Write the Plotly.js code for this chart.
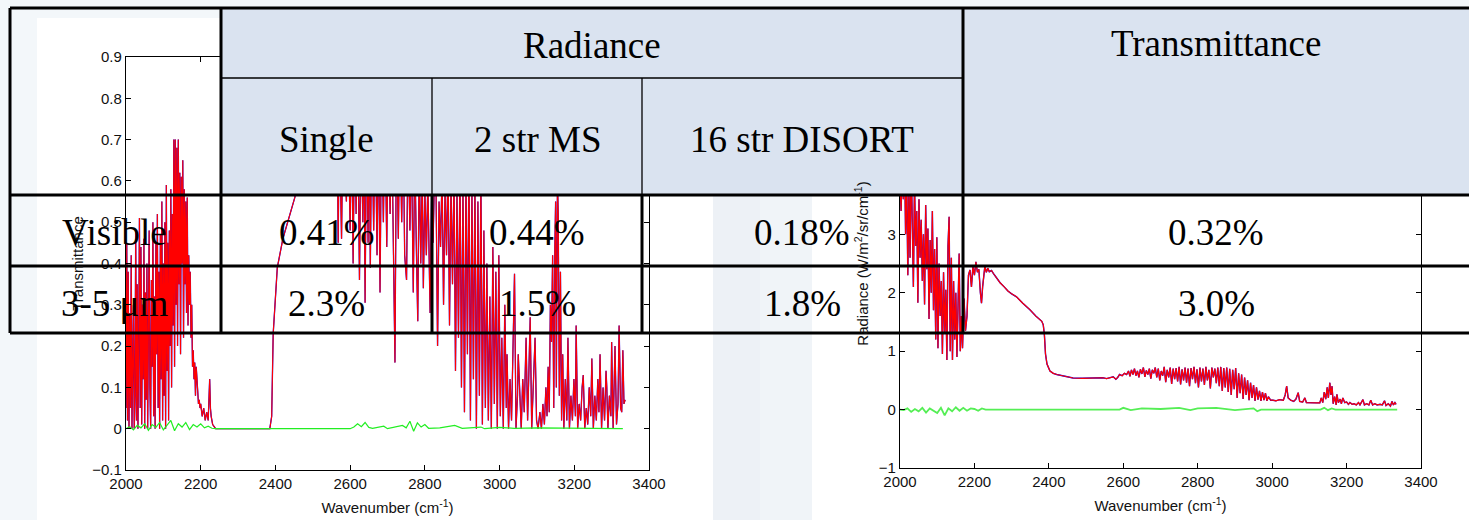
<!DOCTYPE html>
<html>
<head>
<meta charset="utf-8">
<script src="https://cdn.plot.ly/plotly-3.0.1.min.js"></script>
<style>
html,body{margin:0;padding:0;background:#f2f6f9;}
#chart{width:1469px;height:520px;}
</style>
</head>
<body>
<div id="chart"></div>
<script>
// ---------- Transmittance (left panel) ----------
const wnT = [2000,2002,2004,2006,2008,2010,2012,2014,2016,2018,2020,2022,2024,2026,2028,2030,2032,2034,2036,2038,2040,2042,2044,2046,2048,2050,2052,2054,2056,2058,2060,2062,2064,2066,2068,2070,2072,2074,2076,2078,2080,2082,2084,2086,2088,2090,2092,2094,2096,2098,2100,2102,2104,2106,2108,2110,2112,2114,2116,2118,2120,2122,2124,2126,2128,2130,2132,2134,2136,2138,2140,2142,2144,2146,2148,2150,2152,2154,2156,2158,2160,2162,2164,2166,2168,2170,2172,2174,2176,2178,2180,2182,2184,2186,2188,2190,2192,2194,2196,2198,2200,2204,2208,2212,2216,2220,2224,2226,2228,2232,2236,2240,
2385,2390,2394,2400,2405,2420,2439,2452,2465,2490,2520,2550,2565,
2568,2571,2577,2581,2590,2594,2600,2604,2608,2612,2616,2620,2625,2629,2634,2637,2640,2644,2648,2651,2654,2658,2663,2667,2672,2676,2680,2684,2689,2693,2698,2702,2707,2711,2716,2720,2724,2729,2733,2738,2742,2746,2751,2755,2760,2764,2769,2773,2777,2781,2785,2789,2793,2796,2800,2804,2808,2812,2814,2818,2822,2826,
2830,2834,2838,2842,2846,2850,2854,2858,2862,2866,2870,2874,2878,2882,2886,2890,2894,2898,2902,2906,2910,2914,2918,2922,2926,2930,2934,2938,2942,2946,2950,2954,2958,
2962,2966,2970,2974,2978,2982,2986,2990,2994,2998,3002,3006,3010,3014,3018,3020,3024,3028,3032,3036,3040,3044,3048,3050,3054,3058,3062,3066,3071,3075,3078,3082,3086,3090,3095,3099,3103,3108,3112,3116,3120,3124,3127,
3130,3133,3136,3139,3142,3145,3148,3150,3152,3155,3157,3160,3163,3166,3169,3172,
3176,3180,3183,3187,3191,3195,3199,3203,3205,3209,3213,3217,3221,3224,3228,3232,3236,3240,3244,3247,3251,3255,3259,3263,3266,3269,3273,3277,3281,3285,3287,3290,3294,3298,3300,3304,3307,3309,3313,3317,3320,3324,3327,3330,3333,3336];
const trT = [0.05,0.45,0.02,0.38,0.0,0.28,0.05,0.42,0.0,0.1,0.30,0.0,0.08,0.48,0.02,0.35,0.0,0.2,0.51,0.05,0.44,0.01,0.3,0.12,0.46,0.0,0.33,0.07,0.40,0.0,0.25,0.48,0.1,0.0,0.36,0.15,0.50,0.03,0.32,0.0,0.45,0.18,0.52,0.05,0.38,0.0,0.47,0.12,0.55,0.02,0.40,0.08,0.50,0.0,0.59,0.14,0.45,0.02,0.48,0.2,0.58,0.1,0.52,0.25,0.70,0.15,0.70,0.3,0.68,0.2,0.70,0.35,0.62,0.18,0.61,0.4,0.65,0.22,0.58,0.35,0.55,0.28,0.56,0.25,0.42,0.3,0.38,0.22,0.3,0.15,0.19,0.12,0.16,0.08,0.15,0.10,0.09,0.06,0.07,0.05,0.06,0.03,0.05,0.02,0.04,0.02,0.12,0.05,0.03,0.01,0.005,0,
0,0.03,0.23,0.32,0.39,0.46,0.52,0.56,0.62,0.70,0.75,0.78,0.78,
0.45,0.76,0.46,0.77,0.55,0.78,0.48,0.77,0.40,0.76,0.52,0.78,0.36,0.75,0.50,0.77,0.305,0.76,0.45,0.77,0.39,0.76,0.48,0.78,0.42,0.75,0.33,0.76,0.50,0.78,0.44,0.77,0.52,0.76,0.40,0.16,0.75,0.46,0.77,0.50,0.74,0.42,0.36,0.72,0.48,0.70,0.33,0.68,0.45,0.26,0.66,0.40,0.62,0.34,0.58,0.42,0.60,0.38,0.28,0.55,0.45,0.62,
0.58,0.20,0.55,0.44,0.62,0.30,0.58,0.42,0.65,0.25,0.60,0.35,0.62,0.14,0.58,0.22,0.64,0.10,0.60,0.04,0.62,0.18,0.66,0.02,0.58,0.12,0.60,0.0,0.55,0.08,0.62,0.01,0.48,
0.05,0.40,0.02,0.32,0.0,0.44,0.06,0.38,0.0,0.42,0.03,0.22,0.0,0.30,0.05,0.18,0.0,0.12,0.02,0.20,0.375,0.0,0.08,0.18,0.1,0.0,0.12,0.04,0.22,0.02,0.12,0.27,0.0,0.08,0.22,0.02,0.0,0.04,0.0,0.06,0.01,0.1,0.03,
0.15,0.04,0.30,0.21,0.42,0.05,0.44,0.55,0.10,0.60,0.52,0.08,0.38,0.02,0.18,0.0,
0.12,0.02,0.22,0.0,0.08,0.02,0.12,0.03,0.25,0.0,0.06,0.02,0.1,0.13,0.0,0.05,0.01,0.1,0.03,0.17,0.0,0.08,0.02,0.12,0.04,0.18,0.0,0.1,0.02,0.14,0.1,0.0,0.08,0.03,0.21,0.0,0.12,0.2,0.01,0.06,0.25,0.05,0.04,0.19,0.06,0.07];
const wnTd = [2000,2010,2020,2030,2040,2050,2060,2070,2080,2090,2100,2110,2120,2130,2140,2150,2160,2170,2180,2190,2200,2210,2220,2230,2240,2600,2610,2620,2630,2640,2650,2660,2690,2700,2740,2750,2760,2770,2780,2790,2800,2810,2840,2880,2900,2950,2960,3000,3040,3100,3200,3330];
const trTd = [0,0.005,-0.003,0.008,0.002,0.012,-0.004,0.01,0.003,0.015,-0.003,0.008,0.02,-0.005,0.012,0.004,0.015,-0.002,0.01,0.004,0.012,0.002,0.006,0.001,0,0,0.004,0.012,0.005,0.015,0.003,0.001,0.006,0,0.008,0.002,0.018,-0.006,0.014,0.004,0.01,0.001,0.002,0.008,0.001,0.004,0,0.003,0.001,0.002,0.001,0];

// ---------- Radiance (right panel) ----------
const wnR = [2000,2003,2006,2009,2012,2015,2018,2021,2024,2027,2030,2033,2036,2039,2042,2045,2048,2051,2054,2057,2060,2063,2066,2069,2072,2075,2078,2081,2084,2087,2090,2093,2096,2099,2102,2105,2108,2111,2114,2117,2120,2123,2126,2129,2132,2135,2138,2141,2144,2147,2150,2153,2156,2159,2162,2165,2168,2172,2176,2180,2184,2188,2192,2196,2200,2204,2208,2212,2216,2219,2222,2225,2228,2232,2236,2240,2246,2252,2260,2269,2280,2290,2300,2313,2330,2349,2365,2375,2381,2385,2388,2391,2395,2403,2412,2421,2440,2465,2490,2510,2529,2545,2555,2565,2573,2580,2585,2590,2597,2603,2609,
2614,2618,2622,2626,2630,2634,2638,2642,2646,2650,2654,2658,2662,2666,2670,2674,2678,2682,2686,2690,2694,2698,2702,2706,2710,2714,2718,2722,2726,2730,2734,2738,2742,2746,2750,2754,2758,2762,2766,2770,2774,2778,2782,2786,2790,2794,2798,2802,2806,2810,2814,2818,2822,2826,2830,2834,2838,2842,2846,
2850,2854,2858,2862,2866,2870,2874,2878,2882,2886,2890,2894,2898,2902,2906,2910,2914,2918,2922,2926,2930,2934,2938,2942,2946,2950,2954,2958,2962,2966,2970,2974,2978,2982,2986,2990,2996,3002,3010,3020,3030,3035,3039,3043,3050,3058,3064,3070,3074,3082,3088,3092,3100,3110,3120,3128,3132,3136,3140,3144,3148,3151,3155,3158,3161,3164,3168,3172,3174,3178,3183,3186,3190,3195,3200,3205,3209,3215,3220,3226,3232,3236,3244,3248,3254,3260,3265,3270,3276,3282,3290,3296,3302,3306,3312,3318,3322,3326,3330,3333];
const radR = [3.9,3.4,4.2,3.6,4.5,3.0,4.0,2.3,3.8,2.6,4.3,3.2,2.1,3.9,2.8,3.4,1.83,3.6,2.6,3.25,2.2,3.0,1.8,3.5,2.4,3.1,1.55,2.9,2.0,3.4,1.7,2.75,1.2,2.95,1.05,2.5,1.6,2.2,0.95,2.35,1.3,2.05,0.85,2.8,3.3,1.0,2.6,0.85,2.2,1.2,2.0,0.9,1.9,2.67,1.0,1.6,1.05,1.9,1.35,1.6,2.3,2.39,2.1,2.45,2.3,2.53,2.35,2.4,2.0,1.82,2.1,2.3,2.45,2.35,2.42,2.36,2.38,2.32,2.25,2.17,2.1,2.03,1.98,1.93,1.82,1.71,1.6,1.55,1.51,1.45,1.28,0.95,0.78,0.66,0.62,0.6,0.57,0.54,0.535,0.54,0.55,0.545,0.53,0.54,0.56,0.52,0.55,0.6,0.58,0.62,0.6,
0.66,0.57,0.68,0.6,0.7,0.58,0.66,0.55,0.69,0.61,0.72,0.56,0.67,0.6,0.7,0.53,0.68,0.62,0.72,0.55,0.7,0.5,0.66,0.58,0.73,0.47,0.68,0.55,0.72,0.44,0.7,0.52,0.71,0.48,0.73,0.43,0.69,0.5,0.72,0.46,0.7,0.4,0.71,0.52,0.73,0.45,0.69,0.38,0.72,0.48,0.7,0.42,0.73,0.5,0.68,0.36,0.72,0.55,0.7,
0.45,0.72,0.4,0.73,0.32,0.71,0.38,0.72,0.3,0.7,0.25,0.68,0.35,0.71,0.2,0.62,0.28,0.6,0.18,0.55,0.25,0.5,0.16,0.46,0.2,0.42,0.15,0.38,0.17,0.32,0.15,0.3,0.16,0.28,0.15,0.22,0.16,0.16,0.15,0.17,0.16,0.25,0.4,0.2,0.16,0.14,0.18,0.29,0.14,0.13,0.2,0.12,0.115,0.115,0.115,0.115,0.2,0.12,0.3,0.18,0.38,0.2,0.46,0.25,0.4,0.1,0.22,0.08,0.26,0.12,0.18,0.1,0.2,0.12,0.13,0.09,0.12,0.09,0.1,0.08,0.12,0.08,0.17,0.08,0.1,0.08,0.16,0.08,0.1,0.08,0.09,0.08,0.15,0.07,0.1,0.06,0.14,0.08,0.12,0.09];
const wnRd = [2000,2010,2020,2030,2040,2050,2060,2070,2080,2090,2100,2110,2120,2130,2140,2150,2160,2170,2180,2190,2200,2210,2220,2230,2590,2600,2620,2650,2700,2750,2780,2800,2850,2900,2950,2960,2970,3130,3140,3150,3160,3170,3336];
const radRd = [0,-0.01,0.02,-0.04,0.01,-0.03,0.03,-0.05,0.02,-0.02,-0.06,0.03,-0.1,0.02,-0.03,0.04,-0.02,0.03,-0.02,0.02,0.01,-0.02,0.02,0,0,0.03,-0.01,0.02,0.01,0.03,-0.01,0.02,0.03,-0.01,0.02,-0.03,0,0,0.03,-0.01,0.02,0,0];

// ---------- Table text ----------
const groupHeaders = ["Radiance", "Transmittance"];
const methodHeaders = ["Single", "2 str MS", "16 str DISORT"];
const rowLabels = ["Visible", "3-5 μm"];
const rowValues = [["0.41%", "0.44%", "0.18%", "0.32%"],
                   ["2.3%", "1.5%", "1.8%", "3.0%"]];

// ---------- layout helpers ----------
const W = 1469, H = 520;
const px = x => x / W;
const py = y => 1 - y / H;

const traces = [
  {x: wnT, y: trT, type: 'scatter', mode: 'lines', line: {color: '#0000ff', width: 1.3}, xaxis: 'x', yaxis: 'y', hoverinfo: 'skip'},
  {x: wnT, y: trT, type: 'scatter', mode: 'lines', line: {color: '#ff0000', width: 1.1}, xaxis: 'x', yaxis: 'y', hoverinfo: 'skip'},
  {x: wnTd, y: trTd, type: 'scatter', mode: 'lines', line: {color: '#22ee22', width: 1.2}, xaxis: 'x', yaxis: 'y', hoverinfo: 'skip'},
  {x: wnR, y: radR, type: 'scatter', mode: 'lines', line: {color: '#0000ff', width: 1.4}, xaxis: 'x2', yaxis: 'y2', hoverinfo: 'skip'},
  {x: wnR, y: radR, type: 'scatter', mode: 'lines', line: {color: '#ff0000', width: 1.2}, xaxis: 'x2', yaxis: 'y2', hoverinfo: 'skip'},
  {x: wnRd, y: radRd, type: 'scatter', mode: 'lines', line: {color: '#55ee55', width: 1.8}, xaxis: 'x2', yaxis: 'y2', hoverinfo: 'skip'}
];

const tickFont = {family: 'Liberation Sans, Arial, sans-serif', size: 15, color: '#111'};
const titleFont = {family: 'Liberation Sans, Arial, sans-serif', size: 15, color: '#111'};
function axisBase() {
  return {showgrid: false, zeroline: false, showline: true, linecolor: '#000', linewidth: 1.2,
          mirror: 'ticks', ticks: 'inside', ticklen: 5, tickcolor: '#000', tickwidth: 1,
          tickfont: tickFont, fixedrange: true};
}

const layout = {
  width: W, height: H,
  margin: {l: 0, r: 0, t: 0, b: 0},
  paper_bgcolor: '#f2f6f9',
  plot_bgcolor: 'rgba(0,0,0,0)',
  showlegend: false,
  xaxis: Object.assign(axisBase(), {domain: [px(126), px(649)], range: [2000, 3400], dtick: 200, anchor: 'y',
          title: {text: 'Wavenumber (cm<sup>-1</sup>)', font: titleFont, standoff: 11}}),
  yaxis: Object.assign(axisBase(), {domain: [py(470), py(57)], range: [-0.1, 0.9], dtick: 0.1, anchor: 'x',
          title: {text: 'Transmittance', font: titleFont, standoff: 5}}),
  xaxis2: Object.assign(axisBase(), {domain: [px(900), px(1421)], range: [2000, 3400], dtick: 200, anchor: 'y2',
          title: {text: 'Wavenumber (cm<sup>-1</sup>)', font: titleFont, standoff: 11}}),
  yaxis2: Object.assign(axisBase(), {domain: [py(468), py(59)], range: [-1, 6], dtick: 1, anchor: 'x2',
          title: {text: 'Radiance (W/m<sup>2</sup>/sr/cm<sup>-1</sup>)', font: titleFont, standoff: 6}}),
  shapes: [],
  annotations: []
};

// background picture panels (white) and slide gradient strip
function rect(x0, y0, x1, y1, fill, layer) {
  layout.shapes.push({type: 'rect', xref: 'paper', yref: 'paper', x0: px(x0), x1: px(x1), y0: py(y1), y1: py(y0),
                      fillcolor: fill, line: {width: 0}, layer: layer || 'below'});
}
function line(x0, y0, x1, y1, w) {
  layout.shapes.push({type: 'line', xref: 'paper', yref: 'paper', x0: px(x0), x1: px(x1), y0: py(y0), y1: py(y1),
                      line: {color: '#000', width: w}, layer: 'above'});
}
rect(0, 0, 1469, 520, '#f3f7fa');
rect(713, 170, 760, 520, '#edf1f6');
rect(760, 170, 812, 520, '#f0f4f8');
rect(37, 18, 713, 520, '#ffffff');
rect(812, 18, 1469, 520, '#ffffff');

// table header fills
rect(221, 8, 1469, 195, '#dae3f0', 'above');

// table grid
line(10, 8, 1469, 8, 3);
line(10, 8, 10, 333, 3);
line(221, 8, 221, 333, 3);
line(963, 8, 963, 333, 3);
line(221, 78, 963, 78, 1.6);
line(432, 78, 432, 195, 1.3);
line(642, 78, 642, 195, 1.3);
line(432, 195, 432, 333, 3);
line(642, 195, 642, 333, 3);
line(10, 195, 1469, 195, 3);
line(10, 266, 1469, 266, 3);
line(10, 333, 1469, 333, 3);

// table text
const serif = {family: 'Liberation Serif, Times New Roman, serif', size: 37, color: '#000'};
function txt(text, x, baseline) {
  layout.annotations.push({text: text, xref: 'paper', yref: 'paper', x: px(x), y: py(baseline - 12),
                           xanchor: 'center', yanchor: 'middle', showarrow: false, font: serif});
}
txt(groupHeaders[0], 592, 57);
txt(groupHeaders[1], 1216, 55);
const colCenters = [326.5, 537, 802, 1216];
methodHeaders.forEach((t, i) => txt(t, colCenters[i], 152));
const rowBase = [245, 315];
rowLabels.forEach((t, r) => {
  txt(t, 115, rowBase[r]);
  rowValues[r].forEach((v, c) => txt(v, colCenters[c], rowBase[r]));
});

Plotly.newPlot('chart', traces, layout, {displayModeBar: false, staticPlot: true});
</script>
</body>
</html>
